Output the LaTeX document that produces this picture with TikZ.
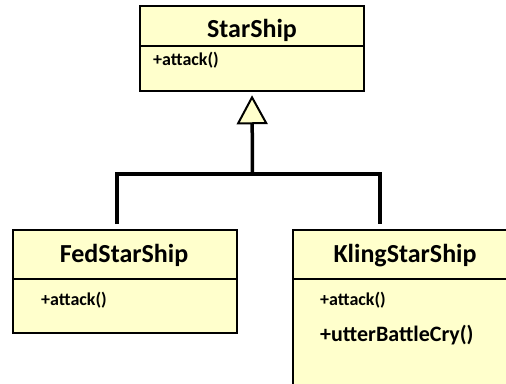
\documentclass[tikz,border=0pt]{standalone}
\usepackage{fontspec}
\setmainfont{Carlito}
\usetikzlibrary{arrows.meta}
\definecolor{classfill}{HTML}{FFFFCC}
\begin{document}
\begin{tikzpicture}[x=1pt,y=-1pt,
    classbox/.style={draw, fill=classfill, line width=2.5pt, rectangle, inner sep=0pt, minimum width=224pt},
    classhead/.style={rectangle, inner sep=0pt, minimum width=224pt, anchor=north},
    divider/.style={line width=1.6pt},
    classtitle/.style={font=\bfseries\fontsize{26}{31}\selectfont, anchor=base, inner sep=0pt},
    member/.style={font=\bfseries\fontsize{18}{22}\selectfont, anchor=base west, inner sep=0pt}]
  \useasboundingbox (0,0) rectangle (506,383);
  \node[classbox, minimum height=85pt] (starship) at (252,48.5) {};
  \node[classhead, minimum height=41pt] (starshiphead) at (starship.north) {};
  \draw[divider] (starshiphead.south west) -- (starshiphead.south east);
  \node[classtitle] (starshipname) at (252,37) {StarShip};
  \node[member] (starshipattack) at (153,65) {+attack()};
  \node[classbox, minimum height=103pt] (fed) at (125,281.5) {};
  \node[classhead, minimum height=50pt] (fedhead) at (fed.north) {};
  \draw[divider] (fedhead.south west) -- (fedhead.south east);
  \node[classtitle] (fedname) at (124,262) {FedStarShip};
  \node[member] (fedattack) at (41,305) {+attack()};
  \node[classbox, minimum height=160pt] (kling) at (405,310) {};
  \node[classhead, minimum height=50pt] (klinghead) at (kling.north) {};
  \draw[divider] (klinghead.south west) -- (klinghead.south east);
  \node[classtitle] (klingname) at (405,262) {KlingStarShip};
  \node[member] (klingattack) at (320,305) {+attack()};
  \node[member, font=\bfseries\fontsize{22}{26}\selectfont] (klingcry) at (320,341) {+utterBattleCry()};
  \coordinate (joint) at (252.5,174);
  \coordinate (fedend) at (117,224);
  \coordinate (klingend) at (380,224);
  \begin{scope}[line width=3.5pt]
    \draw (fedend) |- (joint) -| (klingend);
    \draw[-{Triangle[fill=classfill, length=29pt, width=31pt, line width=2pt]}, shorten >=3pt] (joint) -- (starship.south);
  \end{scope}
\end{tikzpicture}
\end{document}
